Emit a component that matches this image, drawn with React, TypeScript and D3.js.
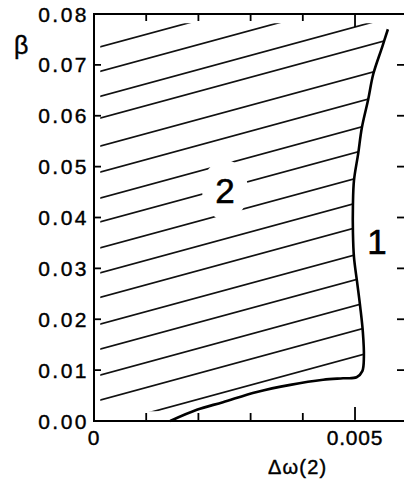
import React from 'react';
import * as d3 from 'd3';

// boundary curve (1 / 2 separatrix), from top down to the x axis
const boundaryX = [0.00563, 0.00552, 0.00535, 0.00525, 0.00513, 0.00506, 0.00498, 0.00496, 0.00496, 0.00498, 0.00504, 0.0051, 0.00515, 0.00517, 0.00514, 0.00503, 0.00477, 0.00439, 0.00376, 0.00312, 0.00247, 0.00197, 0.00146];
const boundaryBeta = [0.077, 0.0735, 0.0682, 0.0631, 0.0576, 0.0525, 0.0473, 0.0424, 0.0371, 0.0322, 0.0273, 0.0224, 0.0175, 0.0126, 0.0098, 0.0086, 0.0084, 0.0081, 0.0071, 0.0057, 0.0037, 0.0022, 0.0];

// hatching: beta value at x = 0 of every line, and their common slope
const hatchIntercepts = [0.0732, 0.0684, 0.0635, 0.0592, 0.0537, 0.0486, 0.0435, 0.0388, 0.0337, 0.0288, 0.024, 0.0187, 0.0138, 0.0087, 0.0038, -0.0013];
const hatchSlope = 2.79;

const yTicks = [0, 0.01, 0.02, 0.03, 0.04, 0.05, 0.06, 0.07, 0.08];
const yTickLabels = ['0.00', '0.01', '0.02', '0.03', '0.04', '0.05', '0.06', '0.07', '0.08'];
const xTicks = [0.001, 0.002, 0.003, 0.004, 0.005];
const xTickLabels = [{ v: 0, t: '0' }, { v: 0.005, t: '0.005' }];

const regionLabels = [
  { t: '2', x: 0.00251, b: 0.0454, blank: true },
  { t: '1', x: 0.00542, b: 0.0354, blank: false },
];

const W = 404;
const H = 479;
const FONT = '"Liberation Sans", Arial, sans-serif';

export default function App() {
  const x = d3.scaleLinear().domain([0, 0.0059]).range([94, 402]);
  const y = d3.scaleLinear().domain([0, 0.08]).range([421, 14]);
  const x0 = x.range()[0];
  const x1 = W;
  const yTop = y(0.08);
  const yBot = y(0);

  const pts: [number, number][] = boundaryX.map((v, i) => [v, boundaryBeta[i]]);
  const line = d3.line<[number, number]>()
    .x(d => x(d[0]))
    .y(d => y(d[1]))
    .curve(d3.curveCatmullRom.alpha(0.5));
  const boundaryPath = line(pts) || '';

  // clip region for the hatching (region 2)
  const xL = 0.00012;
  const bTop = 0.0782;
  const clipPath =
    `M${x(xL)},${y(bTop)} L${x(0.00568)},${y(bTop)} ` +
    boundaryPath.replace(/^M/, 'L') +
    ` L${x(0.00123)},${y(0.0019)} L${x(xL)},${y(0.0019)} Z`;

  return (
    <svg width={W} height={H} style={{ position: 'absolute', left: 0, top: 0, background: '#fff' }}>
      <defs>
        <clipPath id="hatch-clip">
          <path d={clipPath} />
        </clipPath>
      </defs>

      {/* hatching */}
      <g clipPath="url(#hatch-clip)" stroke="#111" strokeWidth={1.7}>
        {hatchIntercepts.map((b, i) => (
          <line key={i}
            x1={x(0)} y1={y(b)}
            x2={x(0.0062)} y2={y(b + hatchSlope * 0.0062)} />
        ))}
      </g>

      {/* boundary curve */}
      <path d={boundaryPath} fill="none" stroke="#000" strokeWidth={2.6} strokeLinejoin="round" />

      {/* frame (right edge falls off the picture) */}
      <path d={`M${x1},${yTop} H${x0} V${yBot} H${x1}`} fill="none" stroke="#000" strokeWidth={2} />

      {/* y ticks, both sides, pointing inward */}
      {yTicks.slice(1, -1).map(t => (
        <g key={t} stroke="#000" strokeWidth={1.8}>
          <line x1={x0} x2={x0 + 7} y1={y(t)} y2={y(t)} />
          <line x1={W - 7} x2={W} y1={y(t)} y2={y(t)} />
        </g>
      ))}
      {/* x ticks, bottom and top */}
      {xTicks.map(t => {
        const len = t === 0.005 ? 14 : 8;
        return (
          <g key={t} stroke="#000" strokeWidth={1.8}>
            <line x1={x(t)} x2={x(t)} y1={yBot} y2={yBot - len} />
            <line x1={x(t)} x2={x(t)} y1={yTop} y2={yTop + len - 1} />
          </g>
        );
      })}

      {/* y tick labels */}
      {yTicks.map((t, i) => (
        <text key={t} x={89} y={y(t)} dy="0.36em" textAnchor="end"
          fontFamily={FONT} fontSize={21} letterSpacing={2.5} fill="#000"
          stroke="#000" strokeWidth={0.4}>
          {yTickLabels[i]}
        </text>
      ))}
      {/* x tick labels */}
      {xTickLabels.map(d => (
        <text key={d.t} x={x(d.v)} y={445} textAnchor="middle"
          fontFamily={FONT} fontSize={21} letterSpacing={0.8} fill="#000"
          stroke="#000" strokeWidth={0.4}>
          {d.t}
        </text>
      ))}

      {/* axis titles */}
      <text x={14} y={54} fontFamily={FONT} fontSize={25} fill="#000" stroke="#000" strokeWidth={0.4}>β</text>
      <text x={268} y={474} fontFamily={FONT} fontSize={20} letterSpacing={1.2} fill="#000"
        stroke="#000" strokeWidth={0.4}>Δω(2)</text>

      {/* region labels */}
      {regionLabels.map(d => (
        <g key={d.t}>
          {d.blank && <ellipse cx={x(d.x)} cy={y(d.b)} rx={23} ry={30} fill="#fff" />}
          <text x={x(d.x)} y={y(d.b)} dy="0.36em" textAnchor="middle"
            fontFamily={FONT} fontSize={35} fill="#000" stroke="#000" strokeWidth={0.6}>
            {d.t}
          </text>
        </g>
      ))}
    </svg>
  );
}
